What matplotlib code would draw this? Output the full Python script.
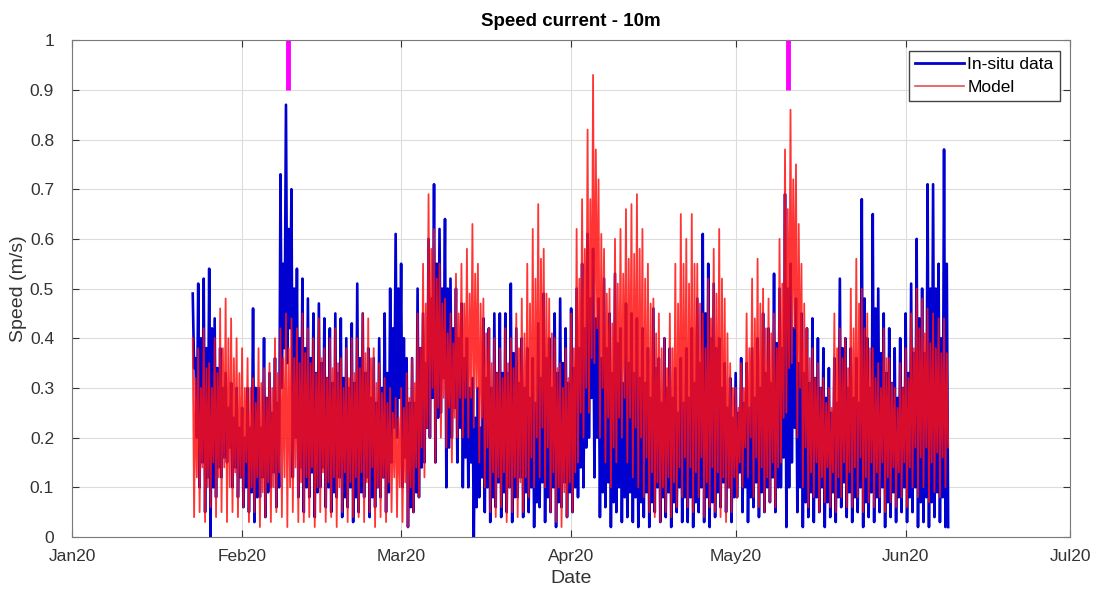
import numpy as np
import matplotlib
matplotlib.use("Agg")
import matplotlib.pyplot as plt
import matplotlib.dates as mdates

plt.rcParams['font.family'] = ['Liberation Sans', 'DejaVu Sans']

# record starts 2020-01-23; per day two tidal cycles:
# main peak, main trough, second peak, second trough
start_date = '2020-01-23'

insitu_hi = [0.49, 0.51, 0.52, 0.54, 0.44, 0.38, 0.33, 0.31, 0.30, 0.26,
             0.30, 0.46, 0.30, 0.40, 0.33, 0.36, 0.73, 0.87, 0.70, 0.54,
             0.52, 0.48, 0.45, 0.47, 0.44, 0.42, 0.45, 0.44, 0.40, 0.43,
             0.51, 0.45, 0.38, 0.36, 0.40, 0.45, 0.50, 0.61, 0.55, 0.36,
             0.36, 0.50, 0.45, 0.60, 0.71, 0.62, 0.64, 0.52, 0.50, 0.47,
             0.40, 0.32, 0.30, 0.44, 0.42, 0.45, 0.45, 0.45, 0.51, 0.42,
             0.40, 0.38, 0.36, 0.43, 0.49, 0.40, 0.45, 0.48, 0.42, 0.46,
             0.50, 0.55, 0.61, 0.58, 0.48, 0.52, 0.45, 0.53, 0.42, 0.47,
             0.45, 0.44, 0.42, 0.38, 0.46, 0.36, 0.40, 0.38, 0.34, 0.36,
             0.38, 0.42, 0.48, 0.61, 0.55, 0.51, 0.40, 0.35, 0.32, 0.33,
             0.36, 0.35, 0.38, 0.40, 0.45, 0.42, 0.53, 0.50, 0.69, 0.55,
             0.48, 0.45, 0.42, 0.44, 0.40, 0.38, 0.34, 0.36, 0.52, 0.40,
             0.38, 0.36, 0.68, 0.40, 0.65, 0.50, 0.45, 0.42, 0.38, 0.40,
             0.45, 0.51, 0.60, 0.50, 0.71, 0.71, 0.55, 0.78]
insitu_lo = [0.34, 0.10, 0.05, 0.00, 0.08, 0.12, 0.15, 0.10, 0.08, 0.06,
             0.05, 0.03, 0.08, 0.04, 0.10, 0.06, 0.30, 0.35, 0.12, 0.08,
             0.05, 0.08, 0.04, 0.10, 0.06, 0.05, 0.08, 0.04, 0.06, 0.03,
             0.05, 0.08, 0.04, 0.06, 0.08, 0.05, 0.15, 0.20, 0.10, 0.02,
             0.05, 0.08, 0.15, 0.20, 0.15, 0.25, 0.10, 0.20, 0.15, 0.10,
             0.10, 0.00, 0.08, 0.05, 0.03, 0.06, 0.04, 0.05, 0.03, 0.08,
             0.04, 0.05, 0.02, 0.06, 0.03, 0.05, 0.02, 0.06, 0.04, 0.05,
             0.08, 0.10, 0.20, 0.12, 0.04, 0.06, 0.02, 0.05, 0.03, 0.04,
             0.03, 0.02, 0.04, 0.02, 0.05, 0.03, 0.04, 0.02, 0.05, 0.03,
             0.03, 0.02, 0.05, 0.03, 0.02, 0.04, 0.06, 0.05, 0.03, 0.08,
             0.05, 0.03, 0.06, 0.04, 0.05, 0.07, 0.05, 0.10, 0.02, 0.15,
             0.05, 0.02, 0.04, 0.03, 0.05, 0.02, 0.04, 0.03, 0.06, 0.04,
             0.03, 0.05, 0.02, 0.04, 0.03, 0.05, 0.02, 0.04, 0.03, 0.05,
             0.03, 0.05, 0.02, 0.03, 0.02, 0.04, 0.03, 0.02]
insitu_mid = [0.36, 0.40, 0.38, 0.42, 0.34, 0.30, 0.26, 0.24, 0.22, 0.20,
              0.22, 0.30, 0.22, 0.28, 0.25, 0.27, 0.55, 0.62, 0.50, 0.40,
              0.38, 0.36, 0.33, 0.35, 0.32, 0.31, 0.33, 0.32, 0.30, 0.31,
              0.36, 0.33, 0.28, 0.27, 0.30, 0.33, 0.42, 0.50, 0.40, 0.27,
              0.27, 0.38, 0.35, 0.48, 0.55, 0.50, 0.50, 0.42, 0.40, 0.36,
              0.30, 0.24, 0.22, 0.32, 0.30, 0.33, 0.33, 0.33, 0.37, 0.31,
              0.30, 0.28, 0.27, 0.32, 0.36, 0.30, 0.33, 0.35, 0.31, 0.34,
              0.38, 0.42, 0.48, 0.44, 0.36, 0.38, 0.33, 0.39, 0.31, 0.35,
              0.33, 0.32, 0.31, 0.28, 0.34, 0.27, 0.30, 0.28, 0.25, 0.27,
              0.28, 0.31, 0.35, 0.45, 0.40, 0.38, 0.30, 0.26, 0.24, 0.25,
              0.27, 0.26, 0.28, 0.30, 0.33, 0.31, 0.39, 0.38, 0.50, 0.42,
              0.35, 0.33, 0.31, 0.32, 0.30, 0.28, 0.25, 0.27, 0.38, 0.30,
              0.28, 0.27, 0.48, 0.30, 0.46, 0.37, 0.33, 0.31, 0.28, 0.30,
              0.33, 0.37, 0.44, 0.37, 0.50, 0.50, 0.40, 0.55]
insitu_lo2 = [0.20, 0.15, 0.12, 0.10, 0.14, 0.16, 0.18, 0.14, 0.12, 0.10,
              0.09, 0.08, 0.12, 0.09, 0.13, 0.10, 0.38, 0.42, 0.20, 0.14,
              0.10, 0.13, 0.09, 0.14, 0.10, 0.09, 0.12, 0.08, 0.10, 0.08,
              0.09, 0.12, 0.08, 0.10, 0.12, 0.09, 0.22, 0.28, 0.16, 0.06,
              0.09, 0.14, 0.22, 0.28, 0.24, 0.32, 0.18, 0.26, 0.22, 0.16,
              0.15, 0.06, 0.12, 0.10, 0.08, 0.11, 0.09, 0.10, 0.08, 0.12,
              0.09, 0.10, 0.07, 0.11, 0.08, 0.10, 0.07, 0.11, 0.09, 0.10,
              0.14, 0.18, 0.28, 0.20, 0.09, 0.11, 0.07, 0.10, 0.08, 0.09,
              0.08, 0.07, 0.09, 0.07, 0.10, 0.08, 0.09, 0.07, 0.10, 0.08,
              0.08, 0.07, 0.10, 0.08, 0.07, 0.09, 0.11, 0.10, 0.08, 0.13,
              0.10, 0.08, 0.11, 0.09, 0.10, 0.12, 0.10, 0.16, 0.10, 0.22,
              0.10, 0.07, 0.09, 0.08, 0.10, 0.07, 0.09, 0.08, 0.11, 0.09,
              0.08, 0.10, 0.07, 0.09, 0.08, 0.10, 0.07, 0.09, 0.08, 0.10,
              0.08, 0.10, 0.07, 0.08, 0.07, 0.09, 0.08, 0.02]

model_hi = [0.40, 0.38, 0.42, 0.35, 0.40, 0.46, 0.48, 0.44, 0.40, 0.38,
            0.36, 0.32, 0.38, 0.34, 0.35, 0.40, 0.42, 0.45, 0.44, 0.42,
            0.45, 0.42, 0.40, 0.44, 0.38, 0.40, 0.42, 0.36, 0.38, 0.40,
            0.40, 0.45, 0.44, 0.38, 0.35, 0.32, 0.30, 0.28, 0.30, 0.33,
            0.36, 0.45, 0.55, 0.69, 0.62, 0.55, 0.48, 0.45, 0.53, 0.55,
            0.58, 0.63, 0.55, 0.48, 0.42, 0.40, 0.38, 0.42, 0.40, 0.45,
            0.48, 0.55, 0.62, 0.67, 0.58, 0.48, 0.40, 0.35, 0.38, 0.45,
            0.62, 0.68, 0.82, 0.93, 0.72, 0.58, 0.50, 0.60, 0.62, 0.66,
            0.67, 0.69, 0.62, 0.55, 0.48, 0.45, 0.40, 0.45, 0.55, 0.65,
            0.60, 0.65, 0.55, 0.45, 0.52, 0.58, 0.62, 0.48, 0.35, 0.30,
            0.35, 0.45, 0.52, 0.56, 0.50, 0.48, 0.45, 0.60, 0.78, 0.86,
            0.75, 0.55, 0.42, 0.38, 0.35, 0.32, 0.30, 0.45, 0.42, 0.40,
            0.50, 0.56, 0.50, 0.45, 0.38, 0.35, 0.42, 0.36, 0.30, 0.35,
            0.38, 0.45, 0.50, 0.48, 0.46, 0.45, 0.44, 0.44]
model_lo = [0.04, 0.05, 0.03, 0.06, 0.04, 0.05, 0.03, 0.05, 0.04, 0.06,
            0.03, 0.05, 0.02, 0.04, 0.03, 0.05, 0.04, 0.02, 0.05, 0.03,
            0.03, 0.04, 0.02, 0.05, 0.03, 0.04, 0.02, 0.05, 0.03, 0.04,
            0.04, 0.03, 0.05, 0.02, 0.04, 0.03, 0.05, 0.04, 0.03, 0.02,
            0.05, 0.08, 0.12, 0.20, 0.15, 0.20, 0.18, 0.15, 0.20, 0.20,
            0.20, 0.22, 0.15, 0.10, 0.05, 0.04, 0.06, 0.03, 0.05, 0.04,
            0.05, 0.08, 0.10, 0.12, 0.10, 0.05, 0.03, 0.02, 0.04, 0.05,
            0.15, 0.20, 0.25, 0.35, 0.20, 0.15, 0.10, 0.15, 0.20, 0.15,
            0.12, 0.10, 0.08, 0.05, 0.04, 0.03, 0.05, 0.04, 0.06, 0.08,
            0.06, 0.05, 0.08, 0.04, 0.06, 0.05, 0.04, 0.03, 0.05, 0.08,
            0.10, 0.12, 0.08, 0.06, 0.05, 0.07, 0.06, 0.15, 0.25, 0.35,
            0.20, 0.10, 0.06, 0.08, 0.05, 0.07, 0.06, 0.05, 0.08, 0.06,
            0.06, 0.08, 0.05, 0.07, 0.06, 0.08, 0.05, 0.07, 0.06, 0.08,
            0.06, 0.10, 0.08, 0.10, 0.07, 0.09, 0.08, 0.10]
model_mid = [0.32, 0.30, 0.34, 0.30, 0.33, 0.38, 0.40, 0.36, 0.33, 0.30,
             0.30, 0.27, 0.31, 0.28, 0.30, 0.33, 0.36, 0.38, 0.36, 0.35,
             0.37, 0.35, 0.33, 0.36, 0.32, 0.34, 0.35, 0.30, 0.32, 0.33,
             0.34, 0.37, 0.36, 0.31, 0.29, 0.27, 0.25, 0.24, 0.26, 0.28,
             0.31, 0.38, 0.47, 0.58, 0.52, 0.47, 0.41, 0.39, 0.45, 0.47,
             0.49, 0.53, 0.47, 0.41, 0.35, 0.33, 0.32, 0.35, 0.34, 0.38,
             0.41, 0.47, 0.52, 0.56, 0.49, 0.41, 0.34, 0.30, 0.32, 0.38,
             0.52, 0.58, 0.68, 0.78, 0.61, 0.49, 0.43, 0.51, 0.53, 0.56,
             0.57, 0.58, 0.52, 0.47, 0.41, 0.38, 0.34, 0.38, 0.47, 0.55,
             0.51, 0.55, 0.47, 0.38, 0.44, 0.49, 0.52, 0.41, 0.30, 0.26,
             0.30, 0.38, 0.44, 0.47, 0.42, 0.41, 0.38, 0.51, 0.66, 0.72,
             0.63, 0.47, 0.36, 0.32, 0.30, 0.27, 0.26, 0.38, 0.36, 0.34,
             0.42, 0.47, 0.42, 0.38, 0.32, 0.30, 0.36, 0.31, 0.26, 0.30,
             0.32, 0.38, 0.42, 0.41, 0.39, 0.38, 0.37, 0.37]
model_lo2 = [0.12, 0.14, 0.10, 0.15, 0.12, 0.14, 0.10, 0.13, 0.12, 0.15,
             0.10, 0.12, 0.09, 0.11, 0.10, 0.13, 0.12, 0.10, 0.14, 0.11,
             0.12, 0.14, 0.10, 0.13, 0.11, 0.12, 0.10, 0.13, 0.11, 0.12,
             0.13, 0.11, 0.14, 0.10, 0.12, 0.11, 0.12, 0.10, 0.11, 0.10,
             0.14, 0.18, 0.22, 0.30, 0.26, 0.28, 0.26, 0.24, 0.28, 0.28,
             0.28, 0.30, 0.24, 0.18, 0.13, 0.12, 0.13, 0.10, 0.12, 0.11,
             0.12, 0.16, 0.20, 0.22, 0.18, 0.13, 0.10, 0.09, 0.11, 0.13,
             0.25, 0.30, 0.36, 0.42, 0.30, 0.24, 0.18, 0.24, 0.28, 0.24,
             0.22, 0.20, 0.16, 0.13, 0.11, 0.10, 0.12, 0.11, 0.14, 0.16,
             0.14, 0.13, 0.16, 0.11, 0.14, 0.13, 0.12, 0.10, 0.12, 0.15,
             0.18, 0.20, 0.16, 0.14, 0.12, 0.15, 0.14, 0.24, 0.34, 0.42,
             0.30, 0.18, 0.13, 0.15, 0.12, 0.14, 0.13, 0.12, 0.15, 0.13,
             0.14, 0.16, 0.12, 0.15, 0.13, 0.15, 0.12, 0.14, 0.13, 0.15,
             0.14, 0.18, 0.16, 0.18, 0.15, 0.17, 0.16, 0.18]

event_dates = ['2020-02-09T10', '2020-05-10T12']
month_ticks = ['2020-01-01', '2020-02-01', '2020-03-01', '2020-04-01',
               '2020-05-01', '2020-06-01', '2020-07-01']


def tidal_series(hi, lo, mid, lo2):
    vals = np.column_stack([hi, lo, mid, lo2]).ravel()
    t = np.datetime64(start_date) + np.arange(len(vals)) * np.timedelta64(6, 'h')
    return t.astype('datetime64[m]').astype(object), vals


fig = plt.figure(figsize=(11.09, 5.95), dpi=100)
ax = fig.add_axes([0.065, 0.0975, 0.9, 0.835])

t_obs, v_obs = tidal_series(insitu_hi, insitu_lo, insitu_mid, insitu_lo2)
t_mod, v_mod = tidal_series(model_hi, model_lo, model_mid, model_lo2)
ax.plot(t_obs, v_obs, color='#0000d0', lw=1.9, label='In-situ data')
ax.plot(t_mod, v_mod, color='#ff1010', lw=1.3, alpha=0.85, label='Model')

for d in event_dates:
    ax.plot([np.datetime64(d).astype(object)] * 2, [0.9, 1.0],
            color='#ff00ff', lw=3.5, solid_capstyle='butt')

ax.set_xlim(np.datetime64(month_ticks[0]).astype(object),
            np.datetime64(month_ticks[-1]).astype(object))
ax.set_ylim(0, 1)
ax.set_xticks([np.datetime64(m).astype(object) for m in month_ticks])
ax.xaxis.set_major_formatter(mdates.DateFormatter('%b%y'))
ax.set_yticks(np.arange(0, 1.01, 0.1))
ax.set_yticklabels(['0'] + ['%.1f' % v for v in np.arange(0.1, 0.95, 0.1)] + ['1'])
ax.tick_params(direction='in', labelsize=12.5, colors='#333333', length=5,
               top=True, right=True)
ax.tick_params(axis='x', pad=9)
ax.tick_params(axis='y', pad=13)
ax.grid(True, color='#dcdcdc', lw=0.8)
ax.set_axisbelow(True)
for s in ax.spines.values():
    s.set_color('#7a7a7a')

ax.set_title('Speed current - 10m', fontsize=13.5, fontweight='bold', pad=10)
ax.set_xlabel('Date', fontsize=14, color='#333333', labelpad=4)
ax.set_ylabel('Speed (m/s)', fontsize=14, color='#333333', labelpad=2)

leg = ax.legend(loc='upper right', fontsize=12.5, fancybox=False, framealpha=1,
                borderpad=0.35, handlelength=2.8, handletextpad=0.2,
                labelspacing=0.45, borderaxespad=0.6)
leg.get_frame().set_edgecolor('#444444')
leg.get_lines()[0].set_linewidth(2.0)
leg.get_lines()[1].set_color('#e05050')
leg.get_lines()[1].set_linewidth(1.2)
leg.get_lines()[1].set_alpha(1.0)

fig.savefig('out.png', dpi=100)
